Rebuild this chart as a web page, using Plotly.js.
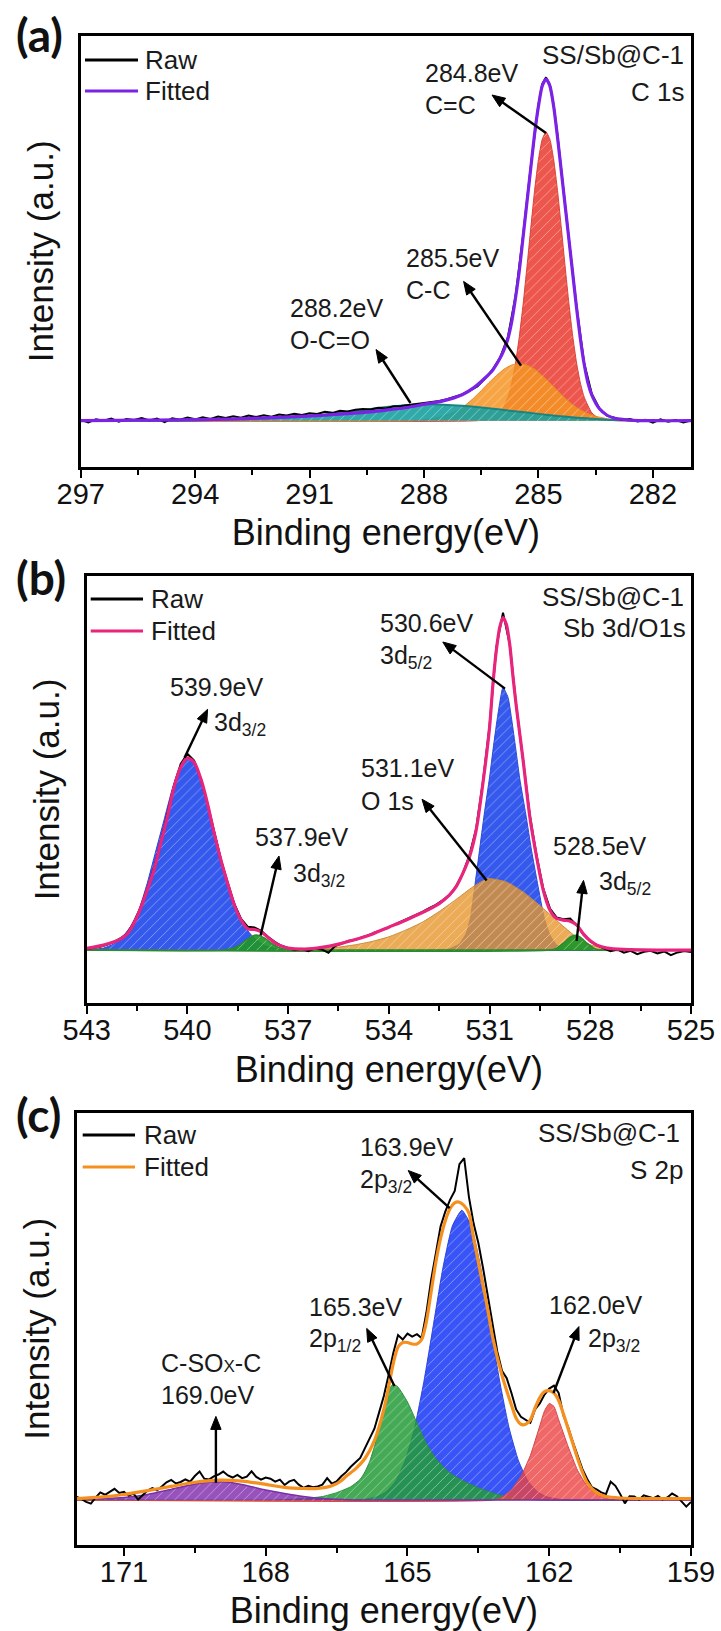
<!DOCTYPE html>
<html>
<head>
<meta charset="utf-8">
<script src="https://cdn.plot.ly/plotly-3.0.1.min.js"></script>
<style>
html,body{margin:0;padding:0;background:#ffffff;}
#chart{width:721px;height:1631px;}
</style>
</head>
<body>
<div id="chart"></div>
<script>
// ---------------- DATA ----------------
// Panel (a): C 1s
const energyA_raw = [297.0,296.8,296.6,296.4,296.2,296.0,295.8,295.6,295.4,295.2,295.0,294.8,294.6,294.4,294.2,294.0,293.8,293.6,293.4,293.2,293.0,292.8,292.6,292.4,292.2,292.0,291.8,291.6,291.4,291.2,291.0,290.8,290.6,290.4,290.2,290.0,289.8,289.6,289.4,289.2,289.0,288.8,288.6,288.4,288.2,288.0,287.8,287.6,287.4,287.2,287.0,286.8,286.6,286.4,286.2,286.0,285.8,285.6,285.4,285.2,285.0,284.9,284.8,284.7,284.6,284.5,284.4,284.2,284.0,283.8,283.6,283.4,283.2,283.0,282.8,282.6,282.4,282.2,282.0,281.8,281.6,281.4,281.2,281.0];
const intensityA_raw = [0.3,-0.5,0.4,0.0,0.6,-0.3,0.5,0.2,0.8,0.1,0.6,-0.4,0.7,0.3,0.9,0.4,1.0,0.5,1.2,0.8,1.3,0.9,1.5,1.1,1.6,1.2,1.8,1.5,2.0,1.7,2.2,2.0,2.6,2.3,2.9,2.7,3.2,3.4,3.3,3.8,3.6,4.2,4.3,4.6,4.9,5.1,5.4,5.8,6.3,7.0,7.7,8.8,10.0,12.3,15.0,18.6,24.5,36.5,54.5,74.5,92.5,98.5,100.5,98.3,92.3,83.5,72.8,53,33.3,16.8,7.8,3.6,1.5,0.9,0.2,0.5,-0.2,0.3,-0.6,0.4,-0.3,0.2,-0.5,0.1];
const energyA_fit = [297,296,295,294,293,292.5,291.5,290.6,290,289.5,289,288.5,288,287.5,287,286.7,286.4,286.2,286,285.9,285.8,285.7,285.6,285.5,285.4,285.3,285.2,285.1,285,284.9,284.8,284.7,284.6,284.5,284.4,284.3,284.2,284.1,284,283.9,283.8,283.7,283.6,283.4,283.2,283,282.6,282,281];
const intensityA_fit = [0,0.1,0.2,0.3,0.5,0.7,1.1,1.6,2.1,2.5,3.1,3.8,4.8,5.8,7.6,9.6,12.5,14.8,18.4,20.8,24,29,36,44,54,64,74,84,92,98,100,98,92,83,73,63,53,43,33,24,16.5,11,7.5,3.5,1.6,0.7,0.2,0,0];
const energyA_CC2 = [297,286.6,286.2,286,285.8,285.7,285.6,285.5,285.4,285.3,285.2,285.1,285,284.9,284.8,284.7,284.6,284.5,284.4,284.3,284.2,284.1,284,283.9,283.8,283.6,283.4,283,281];
const intensityA_CC2 = [0,0,0.6,2.3,6.9,11,16.9,24.7,34.2,45.1,56.5,67.4,76.4,82.4,84.5,82.4,76.4,67.4,56.5,45.1,34.2,24.7,16.9,11,6.9,2.3,0.6,0,0];
const energyA_CC = [297,288.3,287.9,287.5,287.3,287.1,286.9,286.7,286.5,286.3,286.1,285.9,285.7,285.5,285.3,285.1,284.9,284.7,284.5,284.3,284.1,283.9,283.7,283.5,283.1,282.7,281];
const intensityA_CC = [0,0,0.4,1.3,2.1,3.2,4.7,6.6,8.8,11.1,13.2,15.1,16.3,16.7,16.3,15.1,13.2,11.1,8.8,6.6,4.7,3.2,2.1,1.3,0.4,0,0];
const energyA_OCO = [297,294.5,293.5,292.5,291.5,290.5,290,289.5,289,288.5,288,287.5,287,286.5,286,285.5,285,284.5,284,283.5,283,282,281];
const intensityA_OCO = [0,0,0.2,0.5,1.0,2.0,2.6,3.3,4.0,4.5,4.8,4.7,4.4,3.9,3.3,2.6,2.0,1.4,0.9,0.5,0.2,0,0];

// Panel (b): Sb 3d / O 1s
const energyB_raw = [543.0,542.8,542.6,542.4,542.2,542.0,541.8,541.6,541.4,541.2,541.0,540.8,540.6,540.4,540.2,540.0,539.8,539.6,539.4,539.2,539.0,538.8,538.6,538.4,538.2,538.0,537.8,537.6,537.4,537.2,537.0,536.8,536.6,536.4,536.2,536.0,535.8,535.6,535.4,535.2,535.0,534.8,534.6,534.4,534.2,534.0,533.8,533.6,533.4,533.2,533.0,532.8,532.6,532.4,532.2,532.0,531.8,531.6,531.4,531.2,531.0,530.8,530.6,530.4,530.2,530.0,529.8,529.6,529.4,529.2,529.0,528.8,528.6,528.4,528.2,528.0,527.8,527.6,527.4,527.2,527.0,526.8,526.6,526.4,526.2,526.0,525.8,525.6,525.4,525.2,525.0];
const intensityB_raw = [0.3,0.6,1.0,1.6,2.4,3.5,5.0,8.2,12.8,18.3,24.5,32.2,40.5,49.5,56,59,57,51.5,44,35.3,27,20.3,13.8,9.4,7.0,6.8,5.8,4.0,2.5,1.3,0.6,0.0,0.4,-0.3,0.5,0.2,-0.8,1.2,2.0,2.8,3.0,3.9,4.5,5.4,6.0,6.9,7.8,8.6,9.6,10.6,11.5,12.6,13.6,15.0,16.5,19.2,23.0,28.5,36.5,50.5,67.5,91,101.5,92,73,57,40.5,28.5,18.5,12.5,9.8,9.3,9.5,7.4,4.6,2.6,1.4,0.5,-0.3,0.2,-0.8,-0.2,-1.2,-0.5,-0.2,-1.0,-0.4,-1.5,-0.7,-0.3,-0.6];
const energyB_fit = [543,542.5,542,541.8,541.6,541.4,541.2,541,540.8,540.6,540.4,540.2,540,539.8,539.6,539.4,539.2,539,538.8,538.6,538.4,538.2,538,537.8,537.6,537.4,537.2,537,536.5,536,535.5,535,534.5,534,533.5,533,532.5,532.2,532,531.8,531.6,531.4,531.2,531,530.9,530.8,530.7,530.6,530.5,530.4,530.3,530.2,530,529.8,529.6,529.4,529.2,529,528.8,528.6,528.4,528.2,528,527.8,527.5,527,526,525];
const intensityB_fit = [0.5,1.5,3.3,4.8,8,12.5,18,24,32,40,49,55,57.8,56.5,51.5,44,35,27,20,13.5,9,6.4,6.2,5.5,3.8,2.2,1.2,0.6,0.3,0.8,1.8,3.2,4.8,6.9,9.0,11.3,14.0,16.5,19.0,23,28,36,50,67,80,90,97,100,98,92,82,73,57,40,28,18,12,9.5,9.0,8.7,7.5,4.8,2.8,1.5,0.6,0.2,0,0];
const energyB_3d32 = [543,542.8,542.5,542.2,541.95,541.7,541.45,541.2,540.95,540.7,540.45,540.2,539.95,539.7,539.45,539.2,538.95,538.7,538.45,538.2,537.95,537.7,537.4,537,525];
const intensityB_3d32 = [0,0.2,0.6,1.8,3.8,7,12,20,29.5,39,48.5,55.5,57.5,54.5,46,36,26,17,10.5,5.8,3.0,1.4,0.5,0,0];
const energyB_3d52 = [543,532.6,532.2,531.9,531.7,531.57,531.43,531.3,531.16,531.0,530.88,530.75,530.6,530.45,530.35,530.24,530.1,529.92,529.75,529.57,529.37,529.2,529.0,528.7,528.4,525];
const intensityB_3d52 = [0,0,0.4,1.8,5,9.6,20,30,40.8,52,61.6,71,79,76,70,62,51.5,40.8,30,20,9.6,4.5,1.5,0.3,0,0];
const energyB_O1s = [543,536.6,536,535.5,535,534.5,534,533.5,533,532.5,532,531.5,531.05,530.5,530,529.5,529,528.5,528,527.5,527,525];
const intensityB_O1s = [0,0,0.4,0.9,1.6,2.6,4.0,6.0,8.4,11.6,15.2,19.0,21.5,20.5,17.5,13.4,8.9,4.6,1.6,0.5,0,0];
const energyB_s1 = [543,538.9,538.6,538.4,538.2,538.0,537.9,537.7,537.5,537.3,537.0,536.8,525];
const intensityB_s1 = [0,0,0.7,1.8,3.4,4.5,4.5,3.6,2.1,0.9,0.1,0,0];
const energyB_s2 = [543,529.2,529.0,528.8,528.6,528.45,528.3,528.1,527.9,527.7,525];
const intensityB_s2 = [0,0,0.6,2.1,3.9,4.5,3.9,2.1,0.6,0,0];

// Panel (c): S 2p
const energyC_raw = [172.0,171.9,171.8,171.7,171.6,171.5,171.4,171.3,171.2,171.1,171.0,170.9,170.8,170.7,170.6,170.5,170.4,170.3,170.2,170.1,170.0,169.9,169.8,169.7,169.6,169.5,169.4,169.3,169.2,169.1,169.0,168.9,168.8,168.7,168.6,168.5,168.4,168.3,168.2,168.1,168.0,167.9,167.8,167.7,167.6,167.5,167.4,167.3,167.2,167.1,167.0,166.9,166.8,166.7,166.6,166.5,166.4,166.3,166.2,166.1,166.0,165.9,165.8,165.7,165.6,165.5,165.4,165.3,165.2,165.1,165.0,164.9,164.8,164.7,164.6,164.5,164.4,164.3,164.2,164.1,164.0,163.9,163.8,163.7,163.6,163.5,163.4,163.3,163.2,163.1,163.0,162.9,162.8,162.7,162.6,162.5,162.4,162.3,162.2,162.1,162.0,161.9,161.8,161.7,161.6,161.5,161.4,161.3,161.2,161.1,161.0,160.9,160.8,160.7,160.6,160.5,160.4,160.3,160.2,160.1,160.0,159.9,159.8,159.7,159.6,159.5,159.4,159.3,159.2,159.1,159.0];
const intensityC_raw = [1.1,0.4,-0.6,-1.2,0.8,2.6,1.8,2.9,3.8,2.4,2.8,1.5,2.2,0.2,1.6,3.2,4.0,3.3,4.6,6.0,6.8,5.6,6.1,7.0,6.2,8.1,9.6,7.2,6.9,8.0,8.6,9.6,8.3,7.6,8.5,7.4,7.9,9.7,7.8,6.9,7.6,7.2,6.2,6.9,5.1,6.3,6.8,5.2,4.1,4.8,4.3,4.6,5.2,7.4,5.5,6.3,8.0,9.4,11.2,12.8,14.2,17.5,20.8,24.0,29.5,35.0,42.0,49.5,55.5,54.0,56.0,55.0,55.8,54.5,63.0,74.0,83.0,92.0,97.0,101.0,104.0,113.0,115.0,102.0,93.0,86.5,78.0,69.0,59.0,50.0,43.5,41.0,36.0,30.5,28.0,27.0,26.0,30.5,32.5,35.5,37.5,38.5,36.0,28.5,24.5,19.5,14.8,10.5,7.2,4.4,3.6,2.6,2.0,6.2,4.8,2.1,-1.1,1.3,1.2,0.1,1.6,1.0,0.6,1.4,0.2,0.9,2.2,1.3,-0.4,-2.2,-0.6];
const energyC_fit = [172,171.5,171,170.5,170,169.5,169,168.5,168,167.6,167.2,166.9,166.6,166.4,166.3,166.1,165.9,165.7,165.5,165.4,165.3,165.2,165.1,165,164.9,164.8,164.7,164.6,164.5,164.4,164.3,164.2,164.1,164,163.9,163.8,163.7,163.6,163.5,163.4,163.3,163.2,163,162.8,162.7,162.6,162.5,162.4,162.3,162.2,162.1,162,161.9,161.8,161.7,161.6,161.5,161.4,161.3,161.2,161,160.8,160.5,160,159.5,159];
const intensityC_fit = [0.5,1.0,1.9,3.2,4.6,6.0,6.7,6.4,5.3,4.3,3.9,3.9,4.8,6.5,8,10.5,14,20,30.5,38,46,51.5,53,53,52.5,52.5,54,60,70,80,88,94,98,100,100.2,99,96.5,88,80,72,64,55,42,32,27.5,25.5,25.5,27,31,34.5,36.5,36.8,36,33.5,29,24,19,14,9.5,6,2.5,1.2,0.7,0.5,0.5,0.5];
const energyC_2p32 = [172,166.35,165.95,165.65,165.45,165.25,165.05,164.85,164.65,164.45,164.25,164.05,163.85,163.65,163.45,163.25,163.05,162.85,162.65,162.45,162.25,162.05,161.75,161.35,159];
const intensityC_2p32 = [0,0,0.2,1.1,2.8,6.4,13.2,24.3,40.1,59.1,78.1,92.2,97.5,92.2,78.1,59.1,40.1,24.3,13.2,6.4,2.8,1.1,0.2,0,0];
const energyC_2p12 = [172,167.8,167.2,166.8,166.5,166.2,166.0,165.9,165.8,165.7,165.6,165.5,165.4,165.3,165.2,165.0,164.8,164.6,164.4,164.2,164.0,163.7,163.4,163.0,162.6,162.2,159];
const intensityC_2p12 = [0,0,0.5,1.2,2.5,4.5,7,9.5,13,18,24,30,37,39,38,33,26,19,14,10.5,8,5.5,3.5,1.5,0.5,0,0];
const energyC_lo = [172,163.2,163.0,162.8,162.6,162.4,162.2,162.1,162.0,161.9,161.8,161.6,161.4,161.2,161.0,160.8,160.5,159];
const intensityC_lo = [0,0,1,3.5,8,15,25,30,32.5,31.5,27,18,10,4.8,2,0.6,0,0];
const energyC_SOx = [172,171.5,171,170.5,170,169.5,169.1,168.7,168.3,168,167.6,167.2,166.8,166.4,166,159];
const intensityC_SOx = [0.2,0.5,0.9,1.9,3.6,5.4,6.2,5.8,4.5,3.4,2.2,1.2,0.5,0.2,0,0];

// ---------------- helpers ----------------
const W = 721, H = 1631;
const fx = v => v / W;
const fy = v => 1 - v / H;
const FONT = 'Liberation Sans, Arial, sans-serif';

function comp(E, I, k, fill, lineColor, lw) {
  return {
    type: 'scatter', mode: 'lines', x: E, y: I,
    xaxis: 'x' + k, yaxis: 'y' + k,
    line: {color: lineColor, width: lw || 1, shape: 'spline', smoothing: 0.5},
    fill: 'tozeroy', fillcolor: fill,
    fillpattern: {shape: '/', bgcolor: fill, fgcolor: '#ffffff', fgopacity: 0.38, size: 7, solidity: 0.14},
    showlegend: false, hoverinfo: 'skip'
  };
}
function raw(E, I, k, name) {
  return {type: 'scatter', mode: 'lines', name: name, x: E, y: I, xaxis: 'x' + k, yaxis: 'y' + k,
    line: {color: '#000000', width: 2}, showlegend: false, hoverinfo: 'skip'};
}
function fit(E, I, k, color, name) {
  return {type: 'scatter', mode: 'lines', name: name, x: E, y: I, xaxis: 'x' + k, yaxis: 'y' + k,
    line: {color: color, width: 3.2, shape: 'spline', smoothing: 0.7}, showlegend: false, hoverinfo: 'skip'};
}

const traces = [
  comp(energyA_CC2, intensityA_CC2, '', 'rgba(236,68,58,0.9)', '#d8423a'),
  comp(energyA_CC, intensityA_CC, '', 'rgba(245,148,35,0.85)', '#e08a2a'),
  comp(energyA_OCO, intensityA_OCO, '', 'rgba(25,160,160,0.9)', '#1a8480', 2),
  raw(energyA_raw, intensityA_raw, '', 'Raw'),
  fit(energyA_fit, intensityA_fit, '', '#7b22e6', 'Fitted'),

  comp(energyB_3d32, intensityB_3d32, '2', 'rgba(35,75,235,0.92)', '#2a4ad8'),
  comp(energyB_3d52, intensityB_3d52, '2', 'rgba(35,75,235,0.92)', '#2a4ad8'),
  comp(energyB_O1s, intensityB_O1s, '2', 'rgba(230,150,45,0.8)', '#c88a3a'),
  comp(energyB_s1, intensityB_s1, '2', 'rgba(30,150,40,0.92)', '#2a8a30', 1.5),
  comp(energyB_s2, intensityB_s2, '2', 'rgba(30,150,40,0.92)', '#2a8a30', 1.5),
  raw(energyB_raw, intensityB_raw, '2', 'Raw'),
  fit(energyB_fit, intensityB_fit, '2', '#e8247c', 'Fitted'),

  comp(energyC_2p32, intensityC_2p32, '3', 'rgba(35,65,245,0.9)', '#2a44e0'),
  comp(energyC_2p12, intensityC_2p12, '3', 'rgba(35,155,55,0.85)', '#2a9040'),
  comp(energyC_lo, intensityC_lo, '3', 'rgba(235,65,65,0.8)', '#d04848'),
  comp(energyC_SOx, intensityC_SOx, '3', 'rgba(125,40,170,0.8)', '#7a30a8', 1.5),
  raw(energyC_raw, intensityC_raw, '3', 'Raw'),
  fit(energyC_fit, intensityC_fit, '3', '#f5901e', 'Fitted')
];

function xaxisDef(dom, yref, range) {
  return {
    domain: dom, anchor: yref, range: range, autorange: false,
    tickmode: 'linear', tick0: 0, dtick: 3,
    ticks: 'outside', ticklen: 8, tickwidth: 2, tickcolor: '#000',
    ticklabelstandoff: -9,
    minor: {ticks: 'outside', ticklen: 5, tickwidth: 2, tickcolor: '#000', tick0: 0, dtick: 1.5, showgrid: false},
    showline: true, linewidth: 3, linecolor: '#000', mirror: true,
    showgrid: false, zeroline: false,
    tickfont: {family: FONT, size: 29, color: '#111111'},
    title: {text: 'Binding energy(eV)', font: {family: FONT, size: 36, color: '#111111'}, standoff: 12}
  };
}
function yaxisDef(dom, xref, range) {
  return {
    domain: dom, anchor: xref, range: range, autorange: false,
    showticklabels: false, ticks: '',
    showline: true, linewidth: 3, linecolor: '#000', mirror: true,
    showgrid: false, zeroline: false,
    title: {text: 'Intensity (a.u.)', font: {family: FONT, size: 35, color: '#111111'}, standoff: 14}
  };
}

const annotations = [];
const shapes = [];
function label(text, x, y, size, anchor, extra) {
  annotations.push(Object.assign({text: text, xref: 'paper', yref: 'paper', x: fx(x), y: fy(y),
    xanchor: anchor || 'left', yanchor: 'middle', showarrow: false,
    font: {family: FONT, size: size || 25, color: '#1a1a1a'}}, extra || {}));
}
// arrow drawn as a line shape plus a filled triangular head (pixel positions -> paper)
function arrow(hx, hy, tx, ty) {
  const dx = hx - tx, dy = hy - ty, len = Math.hypot(dx, dy);
  const ux = dx / len, uy = dy / len, L = 13, w = 5.2;
  const bx = hx - ux * L, by = hy - uy * L;
  const px = -uy, py = ux;
  shapes.push({type: 'line', xref: 'paper', yref: 'paper',
    x0: fx(tx), y0: fy(ty), x1: fx(bx + ux * 2), y1: fy(by + uy * 2),
    line: {color: '#000', width: 2.4}});
  const p1 = [fx(hx), fy(hy)], p2 = [fx(bx + px * w), fy(by + py * w)], p3 = [fx(bx - px * w), fy(by - py * w)];
  shapes.push({type: 'path', xref: 'paper', yref: 'paper',
    path: 'M' + p1[0] + ',' + p1[1] + 'L' + p2[0] + ',' + p2[1] + 'L' + p3[0] + ',' + p3[1] + 'Z',
    fillcolor: '#000', line: {color: '#000', width: 1}});
}
const PANEL_FONT = 'Lato, Open Sans, DejaVu Sans, sans-serif';
function panelLabel(t, x, y) {
  annotations.push({text: '<b>' + t + '</b>', xref: 'paper', yref: 'paper', x: fx(x), y: fy(y),
    xanchor: 'center', yanchor: 'middle', showarrow: false,
    font: {family: PANEL_FONT, size: 46, color: '#111'}});
}

// panel labels
panelLabel('(a)', 39, 34);
panelLabel('(b)', 41, 578);
panelLabel('(c)', 38, 1114);

// legends (text)
label('Raw', 143, 60, 26); label('Fitted', 143, 91, 26);
label('Raw', 149, 599, 26); label('Fitted', 149, 631, 26);
label('Raw', 141.7, 1135, 26); label('Fitted', 141.7, 1167, 26);

// sample names
label('SS/Sb@C-1', 686, 55, 26, 'right'); label('C 1s', 686, 92, 26, 'right');
label('SS/Sb@C-1', 686, 597, 26, 'right'); label('Sb 3d/O1s', 688, 628, 26, 'right');
label('SS/Sb@C-1', 682, 1133, 26, 'right'); label('S 2p', 686, 1170, 26, 'right');

// (a) peak labels
label('284.8eV', 423, 73); label('C=C', 423, 105);
label('285.5eV', 403.6, 258); label('C-C', 403.6, 290);
label('288.2eV', 288.3, 308); label('O-C=O', 288.3, 340.5);
arrow(492, 95, 546, 133);
arrow(463.6, 281.4, 521, 365.6);
arrow(376, 349.5, 410.5, 403);

// (b) peak labels
label('530.6eV', 378, 623); label('3d<sub>5/2</sub>', 378, 657);
label('539.9eV', 168, 687); label('3d<sub>3/2</sub>', 212, 724);
label('537.9eV', 252.8, 837); label('3d<sub>3/2</sub>', 290.6, 875);
label('531.1eV', 358.9, 768); label('O 1s', 358.9, 801);
label('528.5eV', 551, 846); label('3d<sub>5/2</sub>', 597.3, 883);
arrow(442.8, 642, 505, 688.6);
arrow(207.6, 709.3, 184.5, 757.7);
arrow(279, 856, 260.6, 935.6);
arrow(422, 799.2, 486.6, 880.4);
arrow(583.5, 880.4, 576.6, 940.8);

// (c) peak labels
label('163.9eV', 357.5, 1147); label('2p<sub>3/2</sub>', 357.5, 1181);
label('165.3eV', 306.7, 1307); label('2p<sub>1/2</sub>', 306.7, 1340);
label('162.0eV', 546.6, 1305); label('2p<sub>3/2</sub>', 585.8, 1340);
label('C-SO<span style="font-size:17px">X</span>-C', 159, 1362.5); label('169.0eV', 159, 1395);
arrow(408.2, 1170.5, 449.7, 1208.2);
arrow(366.7, 1328.4, 394.4, 1385.9);
arrow(578.9, 1326.6, 553.5, 1393);
arrow(215.9, 1416.4, 215.9, 1482.8);

// legend line samples
function legLine(x0, x1, y, color) {
  shapes.push({type: 'line', xref: 'paper', yref: 'paper', x0: fx(x0), x1: fx(x1), y0: fy(y), y1: fy(y),
    line: {color: color, width: 3}});
}
legLine(85, 138, 60, '#000000'); legLine(85, 138, 91, '#7b22e6');
legLine(90.7, 143, 599, '#000000'); legLine(90.7, 143, 631, '#e8247c');
legLine(82.7, 135, 1135, '#000000'); legLine(82.7, 135, 1167, '#f5901e');

const layout = {
  width: W, height: H,
  margin: {l: 0, r: 0, t: 0, b: 0, pad: 0},
  paper_bgcolor: '#ffffff', plot_bgcolor: '#ffffff',
  font: {family: FONT, color: '#1a1a1a'},
  showlegend: false,
  xaxis: xaxisDef([fx(80.7), fx(691)], 'y', [297, 281]),
  yaxis: yaxisDef([fy(466.7), fy(36)], 'x', [-13.46, 112.6]),
  xaxis2: xaxisDef([fx(86.7), fx(691)], 'y2', [543, 525]),
  yaxis2: yaxisDef([fy(1003.3), fy(575.7)], 'x2', [-16.0, 112.6]),
  xaxis3: xaxisDef([fx(76.7), fx(691)], 'y3', [172, 159]),
  yaxis3: yaxisDef([fy(1545), fy(1112.7)], 'x3', [-15.1, 130.3]),
  annotations: annotations,
  shapes: shapes
};

Plotly.newPlot('chart', traces, layout, {displayModeBar: false, staticPlot: true});
</script>
</body>
</html>
